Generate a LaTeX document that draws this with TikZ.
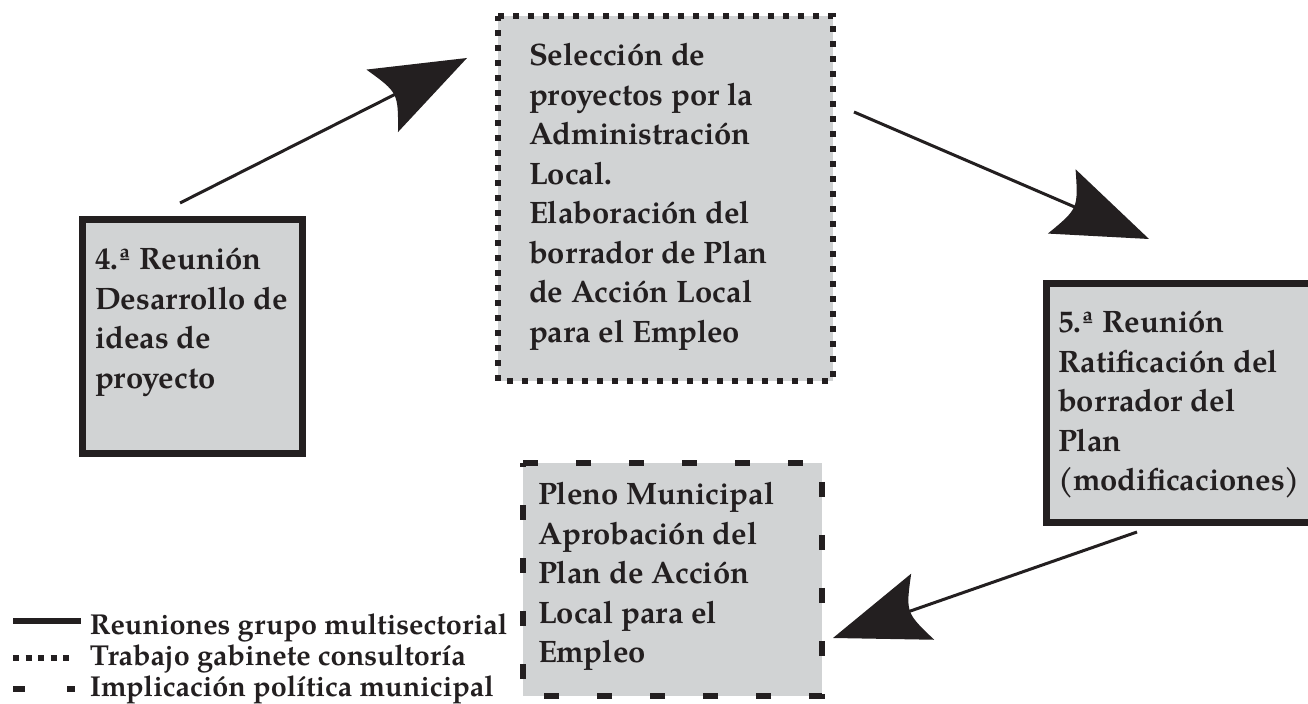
\documentclass[tikz,border=0pt]{standalone}
\usepackage{fontspec}
\setmainfont{texgyrepagella}[Extension=.otf,UprightFont=*-regular,BoldFont=*-bold,ItalicFont=*-italic,BoldItalicFont=*-bolditalic]
\usetikzlibrary{calc}
\definecolor{ink}{HTML}{231F20}
\definecolor{boxgray}{HTML}{D1D3D4}
\tikzset{
 boxtext/.style={font=\fontsize{15.5}{19.75}\selectfont\bfseries, text=ink, align=left, inner sep=0pt, outer sep=0pt, anchor=base west},
 legtext/.style={font=\fontsize{14.4}{16}\selectfont\bfseries, text=ink, inner sep=0pt, outer sep=0pt, anchor=base west},
 panel/.style={fill=boxgray, inner sep=0pt, outer sep=0pt},
 meetbox/.style={panel, draw=ink, line width=3.5pt},
 consultline/.style={draw=ink, line width=3pt, dash pattern=on 3pt off 4.5pt},
 politicline/.style={draw=ink, line width=3pt, dash pattern=on 7.5pt off 19pt},
 flowline/.style={draw=ink, line width=1.5pt},
 flowhead/.style={fill=ink},
 legsolid/.style={draw=ink, line width=3pt},
 legdotted/.style={draw=ink, line width=3pt, dash pattern=on 3pt off 3.25pt},
 legdashed/.style={draw=ink, line width=3pt, dash pattern=on 6pt off 21pt},
}
% #1 = start coordinate, #2 = tip coordinate; big arrowhead with concave back
\newcommand{\flowarrow}[2]{%
 \coordinate (#2-back) at ($(#2)!47.5pt!(#1)$);
 \coordinate (#2-in) at ($(#2)!39pt!(#1)$);
 \coordinate (#2-ctl) at ($(#2)!38.5pt!(#1)$);
 \coordinate (#2-k1) at ($(#2-back)!17.5pt!90:(#2)$);
 \coordinate (#2-k2) at ($(#2-back)!17.5pt!-90:(#2)$);
 \draw[flowline] (#1) -- (#2-in);
 \fill[flowhead] (#2) -- (#2-k1) .. controls (#2-ctl) .. (#2-k2) -- cycle;
}
\begin{document}
\begin{tikzpicture}[x=0.5pt,y=-0.5pt]
\useasboundingbox[fill=white] (0,0) rectangle (1308,704);

% 4.a Reunion (text node anchored at the baseline of its last line)
\node[meetbox, minimum width=110pt, minimum height=117pt] (reu4) at (192.5,336.5) {};
\node[boxtext] (reu4txt) at (95,388.5) {4.ª Reunión\\Desarrollo de\\ideas de\\proyecto};

% Seleccion de proyectos
\node[panel, minimum width=167.5pt, minimum height=182.5pt] (sel) at (665.5,198.5) {};
\draw[consultline] (sel.north west) -- (sel.north east) -- (sel.south east) -- (sel.south west) -- cycle;
\node[boxtext] (seltxt) at (529,342.5) {Selección de\\proyectos por la\\Administración\\Local.\\Elaboración del\\borrador de Plan\\de Acción Local\\para el Empleo};

% 5.a Reunion
\node[meetbox, minimum width=136.75pt, minimum height=119.5pt] (reu5) at (1183.25,403) {};
\node[boxtext] (reu5txt) at (1058,491) {5.ª Reunión\\Ratificación del\\borrador del\\Plan\\(modificaciones)};

% Pleno municipal
\node[panel, minimum width=149.5pt, minimum height=116.5pt] (pleno) at (672.5,579.5) {};
\draw[politicline] (pleno.north west) -- (pleno.north east) -- (pleno.south east) -- (pleno.south west) -- cycle;
\node[boxtext] (plenotxt) at (538,663) {Pleno Municipal\\Aprobación del\\Plan de Acción\\Local para el\\Empleo};

% arrows
\coordinate (a1s) at (180,203);
\coordinate (a1e) at (467,58);
\flowarrow{a1s}{a1e}
\coordinate (a2s) at (854,112);
\coordinate (a2e) at (1149,239);
\flowarrow{a2s}{a2e}
\coordinate (a3s) at (1137,532);
\coordinate (a3e) at (833,638);
\flowarrow{a3s}{a3e}

% legend
\coordinate (l1a) at (13,621.5);
\coordinate (l1b) at (81,621.5);
\draw[legsolid] (l1a) -- (l1b);
\node[legtext] (leg1) at (90,635) {Reuniones grupo multisectorial};
\coordinate (l2a) at (13,658);
\coordinate (l2b) at (72,658);
\draw[legdotted] (l2a) -- (l2b);
\node[legtext] (leg2) at (90,666) {Trabajo gabinete consultoría};
\coordinate (l3a) at (13,689);
\coordinate (l3b) at (75,689);
\draw[legdashed] (l3a) -- (l3b);
\node[legtext] (leg3) at (90,697) {Implicación política municipal};
\end{tikzpicture}
\end{document}
